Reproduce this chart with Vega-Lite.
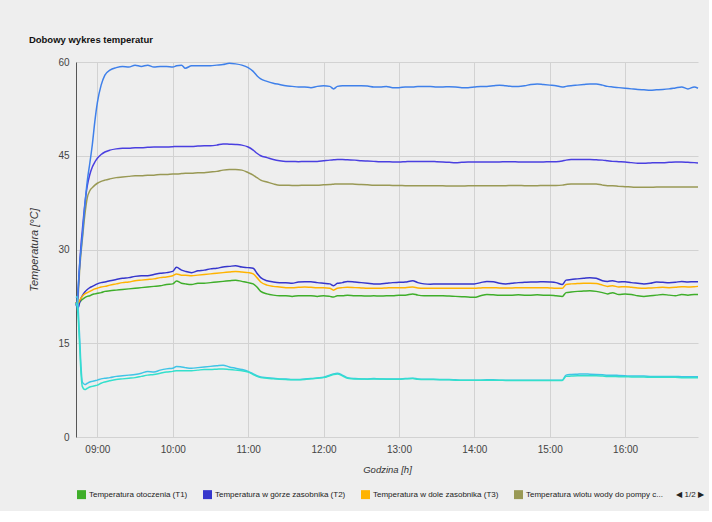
{
  "$schema": "https://vega.github.io/schema/vega-lite/v6.json",
  "width": 622,
  "height": 375,
  "padding": {"left": 28, "top": 34, "right": 5, "bottom": 5},
  "background": "#eeeeee",
  "title": {"text": "Dobowy wykres temperatur", "anchor": "start", "fontSize": 9.5, "fontWeight": "bold", "color": "#111111", "offset": 13},
  "config": {
    "view": {"stroke": null, "fill": "#eeeeee"},
    "font": "Liberation Sans"
  },
  "data": {
    "values": [
      {"t":"1900-01-01T08:43","T1":21.6,"T2":21.5,"T3":21.6,"T4":21.3,"T5":21.2,"T6":21.0,"T7":22.3,"T8":21.5},
      {"t":"1900-01-01T08:44","T1":21.3,"T2":20.6,"T3":21.2,"T4":21.2,"T5":21.5,"T6":21.8,"T7":22.5,"T8":20.8},
      {"t":"1900-01-01T08:45","T1":21.4,"T2":20.8,"T3":21.5,"T4":23.5,"T5":24.5,"T6":24.8,"T7":19.5,"T8":18.2},
      {"t":"1900-01-01T08:46","T1":21.6,"T2":21.6,"T3":21.9,"T4":27.0,"T5":28.0,"T6":27.8,"T7":15.5,"T8":14.2},
      {"t":"1900-01-01T08:47","T1":21.8,"T2":22.2,"T3":22.2,"T4":29.5,"T5":30.8,"T6":30.0,"T7":11.2,"T8":10.2},
      {"t":"1900-01-01T08:48","T1":22.0,"T2":22.6,"T3":22.5,"T4":31.5,"T5":33.0,"T6":32.0,"T7":8.8,"T8":8.1},
      {"t":"1900-01-01T08:50","T1":22.3,"T2":23.2,"T3":22.9,"T4":35.5,"T5":37.2,"T6":37.0,"T7":8.4,"T8":7.6},
      {"t":"1900-01-01T08:52","T1":22.5,"T2":23.6,"T3":23.1,"T4":38.3,"T5":40.2,"T6":41.0,"T7":8.6,"T8":7.8},
      {"t":"1900-01-01T08:54","T1":22.6,"T2":23.9,"T3":23.3,"T4":39.4,"T5":42.0,"T6":43.8,"T7":8.8,"T8":8.0},
      {"t":"1900-01-01T08:56","T1":22.8,"T2":24.1,"T3":23.5,"T4":39.9,"T5":43.2,"T6":46.8,"T7":8.9,"T8":8.1},
      {"t":"1900-01-01T08:58","T1":22.9,"T2":24.3,"T3":23.7,"T4":40.3,"T5":44.0,"T6":50.5,"T7":9.0,"T8":8.2},
      {"t":"1900-01-01T09:00","T1":23.0,"T2":24.5,"T3":23.8,"T4":40.6,"T5":44.6,"T6":53.5,"T7":9.1,"T8":8.3},
      {"t":"1900-01-01T09:03","T1":23.1,"T2":24.7,"T3":24.0,"T4":40.9,"T5":45.2,"T6":56.3,"T7":9.3,"T8":8.6},
      {"t":"1900-01-01T09:06","T1":23.3,"T2":24.8,"T3":24.1,"T4":41.1,"T5":45.6,"T6":57.9,"T7":9.4,"T8":8.8},
      {"t":"1900-01-01T09:10","T1":23.4,"T2":25.0,"T3":24.3,"T4":41.3,"T5":45.9,"T6":58.7,"T7":9.5,"T8":9.0},
      {"t":"1900-01-01T09:15","T1":23.5,"T2":25.2,"T3":24.5,"T4":41.5,"T5":46.1,"T6":59.1,"T7":9.7,"T8":9.2},
      {"t":"1900-01-01T09:20","T1":23.6,"T2":25.4,"T3":24.7,"T4":41.6,"T5":46.2,"T6":59.3,"T7":9.8,"T8":9.3},
      {"t":"1900-01-01T09:25","T1":23.7,"T2":25.5,"T3":24.8,"T4":41.7,"T5":46.2,"T6":59.2,"T7":9.9,"T8":9.4},
      {"t":"1900-01-01T09:30","T1":23.8,"T2":25.7,"T3":25.0,"T4":41.8,"T5":46.3,"T6":59.5,"T7":10.0,"T8":9.5},
      {"t":"1900-01-01T09:35","T1":23.9,"T2":25.8,"T3":25.1,"T4":41.8,"T5":46.3,"T6":59.3,"T7":10.2,"T8":9.7},
      {"t":"1900-01-01T09:40","T1":24.0,"T2":25.8,"T3":25.2,"T4":41.9,"T5":46.35,"T6":59.5,"T7":10.5,"T8":9.9},
      {"t":"1900-01-01T09:45","T1":24.1,"T2":26.0,"T3":25.3,"T4":41.9,"T5":46.4,"T6":59.2,"T7":10.4,"T8":10.0},
      {"t":"1900-01-01T09:50","T1":24.2,"T2":26.2,"T3":25.5,"T4":42.0,"T5":46.4,"T6":59.3,"T7":10.7,"T8":10.2},
      {"t":"1900-01-01T09:55","T1":24.4,"T2":26.3,"T3":25.6,"T4":42.0,"T5":46.4,"T6":59.3,"T7":10.9,"T8":10.4},
      {"t":"1900-01-01T10:00","T1":24.5,"T2":26.5,"T3":25.8,"T4":42.1,"T5":46.45,"T6":59.2,"T7":11.0,"T8":10.5},
      {"t":"1900-01-01T10:03","T1":24.95,"T2":27.15,"T3":26.1,"T4":42.1,"T5":46.5,"T6":59.4,"T7":11.3,"T8":10.6},
      {"t":"1900-01-01T10:07","T1":24.6,"T2":26.7,"T3":25.9,"T4":42.15,"T5":46.5,"T6":59.5,"T7":11.2,"T8":10.6},
      {"t":"1900-01-01T10:10","T1":24.5,"T2":26.5,"T3":25.9,"T4":42.2,"T5":46.5,"T6":59.0,"T7":11.1,"T8":10.6},
      {"t":"1900-01-01T10:15","T1":24.4,"T2":26.3,"T3":25.8,"T4":42.2,"T5":46.5,"T6":59.4,"T7":11.0,"T8":10.6},
      {"t":"1900-01-01T10:20","T1":24.6,"T2":26.6,"T3":25.9,"T4":42.3,"T5":46.55,"T6":59.4,"T7":11.1,"T8":10.7},
      {"t":"1900-01-01T10:25","T1":24.6,"T2":26.7,"T3":26.0,"T4":42.3,"T5":46.6,"T6":59.4,"T7":11.2,"T8":10.8},
      {"t":"1900-01-01T10:30","T1":24.7,"T2":26.9,"T3":26.1,"T4":42.4,"T5":46.6,"T6":59.4,"T7":11.3,"T8":10.8},
      {"t":"1900-01-01T10:35","T1":24.8,"T2":27.0,"T3":26.2,"T4":42.5,"T5":46.7,"T6":59.5,"T7":11.4,"T8":10.85},
      {"t":"1900-01-01T10:40","T1":24.9,"T2":27.2,"T3":26.3,"T4":42.7,"T5":46.9,"T6":59.6,"T7":11.5,"T8":10.9},
      {"t":"1900-01-01T10:45","T1":25.0,"T2":27.3,"T3":26.4,"T4":42.8,"T5":46.85,"T6":59.8,"T7":11.2,"T8":10.8},
      {"t":"1900-01-01T10:50","T1":25.1,"T2":27.4,"T3":26.5,"T4":42.8,"T5":46.8,"T6":59.7,"T7":11.0,"T8":10.7},
      {"t":"1900-01-01T10:55","T1":24.9,"T2":27.2,"T3":26.4,"T4":42.7,"T5":46.7,"T6":59.5,"T7":10.8,"T8":10.6},
      {"t":"1900-01-01T11:00","T1":24.7,"T2":27.1,"T3":26.3,"T4":42.3,"T5":46.4,"T6":59.1,"T7":10.5,"T8":10.4},
      {"t":"1900-01-01T11:04","T1":24.5,"T2":27.0,"T3":26.1,"T4":41.9,"T5":45.9,"T6":58.5,"T7":10.1,"T8":10.0},
      {"t":"1900-01-01T11:07","T1":24.0,"T2":26.2,"T3":25.5,"T4":41.5,"T5":45.4,"T6":57.8,"T7":9.8,"T8":9.7},
      {"t":"1900-01-01T11:10","T1":23.3,"T2":25.5,"T3":24.8,"T4":41.1,"T5":45.0,"T6":57.3,"T7":9.6,"T8":9.5},
      {"t":"1900-01-01T11:15","T1":22.9,"T2":25.0,"T3":24.3,"T4":40.8,"T5":44.7,"T6":56.9,"T7":9.5,"T8":9.4},
      {"t":"1900-01-01T11:20","T1":22.7,"T2":24.8,"T3":24.1,"T4":40.5,"T5":44.4,"T6":56.6,"T7":9.4,"T8":9.3},
      {"t":"1900-01-01T11:25","T1":22.6,"T2":24.7,"T3":24.0,"T4":40.3,"T5":44.2,"T6":56.4,"T7":9.3,"T8":9.25},
      {"t":"1900-01-01T11:30","T1":22.6,"T2":24.7,"T3":23.9,"T4":40.3,"T5":44.1,"T6":56.2,"T7":9.3,"T8":9.2},
      {"t":"1900-01-01T11:35","T1":22.5,"T2":24.6,"T3":23.9,"T4":40.25,"T5":44.1,"T6":56.1,"T7":9.2,"T8":9.15},
      {"t":"1900-01-01T11:40","T1":22.6,"T2":24.8,"T3":23.95,"T4":40.25,"T5":44.05,"T6":56.0,"T7":9.2,"T8":9.15},
      {"t":"1900-01-01T11:45","T1":22.6,"T2":24.85,"T3":24.0,"T4":40.3,"T5":44.1,"T6":56.0,"T7":9.3,"T8":9.2},
      {"t":"1900-01-01T11:50","T1":22.6,"T2":24.85,"T3":23.95,"T4":40.3,"T5":44.1,"T6":55.9,"T7":9.35,"T8":9.3},
      {"t":"1900-01-01T11:55","T1":22.5,"T2":24.7,"T3":23.9,"T4":40.3,"T5":44.1,"T6":56.1,"T7":9.45,"T8":9.4},
      {"t":"1900-01-01T12:00","T1":22.6,"T2":24.6,"T3":23.9,"T4":40.35,"T5":44.2,"T6":56.2,"T7":9.55,"T8":9.5},
      {"t":"1900-01-01T12:05","T1":22.5,"T2":24.5,"T3":23.8,"T4":40.4,"T5":44.3,"T6":56.1,"T7":9.9,"T8":9.8},
      {"t":"1900-01-01T12:08","T1":22.4,"T2":24.2,"T3":23.5,"T4":40.45,"T5":44.35,"T6":55.7,"T7":10.1,"T8":10.0},
      {"t":"1900-01-01T12:11","T1":22.6,"T2":24.6,"T3":23.8,"T4":40.5,"T5":44.4,"T6":56.1,"T7":10.2,"T8":10.1},
      {"t":"1900-01-01T12:15","T1":22.6,"T2":24.7,"T3":23.9,"T4":40.5,"T5":44.4,"T6":56.2,"T7":9.9,"T8":9.8},
      {"t":"1900-01-01T12:19","T1":22.7,"T2":24.9,"T3":23.95,"T4":40.5,"T5":44.35,"T6":56.2,"T7":9.5,"T8":9.4},
      {"t":"1900-01-01T12:25","T1":22.6,"T2":24.8,"T3":23.9,"T4":40.45,"T5":44.3,"T6":56.2,"T7":9.35,"T8":9.3},
      {"t":"1900-01-01T12:30","T1":22.6,"T2":24.7,"T3":23.85,"T4":40.4,"T5":44.2,"T6":56.2,"T7":9.3,"T8":9.3},
      {"t":"1900-01-01T12:35","T1":22.55,"T2":24.6,"T3":23.8,"T4":40.35,"T5":44.15,"T6":56.15,"T7":9.3,"T8":9.25},
      {"t":"1900-01-01T12:40","T1":22.6,"T2":24.5,"T3":23.8,"T4":40.3,"T5":44.1,"T6":56.0,"T7":9.35,"T8":9.3},
      {"t":"1900-01-01T12:45","T1":22.55,"T2":24.5,"T3":23.8,"T4":40.3,"T5":44.05,"T6":56.0,"T7":9.3,"T8":9.3},
      {"t":"1900-01-01T12:50","T1":22.6,"T2":24.6,"T3":23.85,"T4":40.3,"T5":44.05,"T6":56.1,"T7":9.3,"T8":9.25},
      {"t":"1900-01-01T12:55","T1":22.6,"T2":24.7,"T3":23.9,"T4":40.25,"T5":44.0,"T6":55.9,"T7":9.3,"T8":9.25},
      {"t":"1900-01-01T13:00","T1":22.7,"T2":24.75,"T3":23.9,"T4":40.25,"T5":44.0,"T6":55.9,"T7":9.3,"T8":9.25},
      {"t":"1900-01-01T13:05","T1":22.7,"T2":24.8,"T3":23.9,"T4":40.2,"T5":44.05,"T6":56.0,"T7":9.35,"T8":9.3},
      {"t":"1900-01-01T13:11","T1":22.9,"T2":25.0,"T3":24.0,"T4":40.2,"T5":44.1,"T6":56.0,"T7":9.4,"T8":9.35},
      {"t":"1900-01-01T13:15","T1":22.7,"T2":24.7,"T3":23.85,"T4":40.2,"T5":44.1,"T6":56.1,"T7":9.3,"T8":9.25},
      {"t":"1900-01-01T13:20","T1":22.6,"T2":24.5,"T3":23.8,"T4":40.2,"T5":44.1,"T6":56.1,"T7":9.25,"T8":9.2},
      {"t":"1900-01-01T13:25","T1":22.6,"T2":24.45,"T3":23.8,"T4":40.2,"T5":44.1,"T6":56.1,"T7":9.25,"T8":9.2},
      {"t":"1900-01-01T13:30","T1":22.6,"T2":24.5,"T3":23.8,"T4":40.2,"T5":44.05,"T6":56.0,"T7":9.2,"T8":9.2},
      {"t":"1900-01-01T13:35","T1":22.6,"T2":24.5,"T3":23.8,"T4":40.2,"T5":44.0,"T6":56.0,"T7":9.2,"T8":9.15},
      {"t":"1900-01-01T13:40","T1":22.55,"T2":24.5,"T3":23.8,"T4":40.15,"T5":43.95,"T6":56.05,"T7":9.2,"T8":9.15},
      {"t":"1900-01-01T13:45","T1":22.5,"T2":24.5,"T3":23.8,"T4":40.15,"T5":43.9,"T6":56.0,"T7":9.15,"T8":9.1},
      {"t":"1900-01-01T13:50","T1":22.45,"T2":24.5,"T3":23.8,"T4":40.15,"T5":43.95,"T6":55.9,"T7":9.1,"T8":9.1},
      {"t":"1900-01-01T13:55","T1":22.4,"T2":24.5,"T3":23.8,"T4":40.2,"T5":44.0,"T6":55.9,"T7":9.1,"T8":9.1},
      {"t":"1900-01-01T14:00","T1":22.35,"T2":24.5,"T3":23.8,"T4":40.2,"T5":44.0,"T6":56.0,"T7":9.1,"T8":9.1},
      {"t":"1900-01-01T14:05","T1":22.6,"T2":24.7,"T3":23.85,"T4":40.2,"T5":44.0,"T6":56.1,"T7":9.1,"T8":9.1},
      {"t":"1900-01-01T14:10","T1":22.8,"T2":24.9,"T3":23.9,"T4":40.2,"T5":44.0,"T6":56.1,"T7":9.15,"T8":9.1},
      {"t":"1900-01-01T14:15","T1":22.75,"T2":24.85,"T3":23.9,"T4":40.2,"T5":44.0,"T6":56.2,"T7":9.15,"T8":9.1},
      {"t":"1900-01-01T14:20","T1":22.7,"T2":24.6,"T3":23.85,"T4":40.2,"T5":44.0,"T6":56.3,"T7":9.1,"T8":9.1},
      {"t":"1900-01-01T14:25","T1":22.7,"T2":24.5,"T3":23.85,"T4":40.2,"T5":44.05,"T6":56.2,"T7":9.1,"T8":9.05},
      {"t":"1900-01-01T14:30","T1":22.7,"T2":24.6,"T3":23.85,"T4":40.25,"T5":44.05,"T6":56.1,"T7":9.1,"T8":9.05},
      {"t":"1900-01-01T14:35","T1":22.75,"T2":24.7,"T3":23.9,"T4":40.25,"T5":44.0,"T6":56.1,"T7":9.1,"T8":9.05},
      {"t":"1900-01-01T14:40","T1":22.7,"T2":24.75,"T3":23.9,"T4":40.2,"T5":44.0,"T6":56.2,"T7":9.1,"T8":9.05},
      {"t":"1900-01-01T14:45","T1":22.7,"T2":24.8,"T3":23.9,"T4":40.2,"T5":44.0,"T6":56.4,"T7":9.1,"T8":9.05},
      {"t":"1900-01-01T14:50","T1":22.75,"T2":24.8,"T3":23.9,"T4":40.2,"T5":44.0,"T6":56.5,"T7":9.1,"T8":9.05},
      {"t":"1900-01-01T14:55","T1":22.7,"T2":24.85,"T3":23.9,"T4":40.25,"T5":44.0,"T6":56.4,"T7":9.1,"T8":9.05},
      {"t":"1900-01-01T15:00","T1":22.7,"T2":24.8,"T3":23.85,"T4":40.25,"T5":44.05,"T6":56.3,"T7":9.1,"T8":9.05},
      {"t":"1900-01-01T15:05","T1":22.6,"T2":24.7,"T3":23.8,"T4":40.25,"T5":44.05,"T6":56.2,"T7":9.1,"T8":9.05},
      {"t":"1900-01-01T15:10","T1":22.5,"T2":24.4,"T3":23.8,"T4":40.3,"T5":44.15,"T6":56.0,"T7":9.1,"T8":9.05},
      {"t":"1900-01-01T15:13","T1":23.1,"T2":25.1,"T3":24.4,"T4":40.4,"T5":44.3,"T6":56.1,"T7":9.9,"T8":9.7},
      {"t":"1900-01-01T15:17","T1":23.2,"T2":25.2,"T3":24.5,"T4":40.5,"T5":44.4,"T6":56.2,"T7":10.0,"T8":9.75},
      {"t":"1900-01-01T15:22","T1":23.3,"T2":25.3,"T3":24.55,"T4":40.5,"T5":44.4,"T6":56.3,"T7":10.05,"T8":9.8},
      {"t":"1900-01-01T15:27","T1":23.35,"T2":25.4,"T3":24.6,"T4":40.5,"T5":44.4,"T6":56.4,"T7":10.1,"T8":9.8},
      {"t":"1900-01-01T15:32","T1":23.4,"T2":25.5,"T3":24.6,"T4":40.5,"T5":44.4,"T6":56.5,"T7":10.05,"T8":9.8},
      {"t":"1900-01-01T15:37","T1":23.3,"T2":25.4,"T3":24.55,"T4":40.5,"T5":44.35,"T6":56.5,"T7":10.0,"T8":9.8},
      {"t":"1900-01-01T15:42","T1":23.1,"T2":25.0,"T3":24.3,"T4":40.3,"T5":44.3,"T6":56.3,"T7":9.95,"T8":9.75},
      {"t":"1900-01-01T15:46","T1":22.9,"T2":24.9,"T3":24.1,"T4":40.2,"T5":44.2,"T6":56.1,"T7":9.9,"T8":9.7},
      {"t":"1900-01-01T15:50","T1":23.1,"T2":25.0,"T3":24.2,"T4":40.2,"T5":44.1,"T6":56.0,"T7":9.9,"T8":9.7},
      {"t":"1900-01-01T15:55","T1":22.8,"T2":24.8,"T3":24.0,"T4":40.1,"T5":44.05,"T6":55.9,"T7":9.85,"T8":9.65},
      {"t":"1900-01-01T16:00","T1":22.9,"T2":24.85,"T3":24.05,"T4":40.05,"T5":44.0,"T6":55.8,"T7":9.8,"T8":9.65},
      {"t":"1900-01-01T16:05","T1":22.8,"T2":24.7,"T3":23.95,"T4":40.0,"T5":43.9,"T6":55.7,"T7":9.75,"T8":9.6},
      {"t":"1900-01-01T16:10","T1":22.6,"T2":24.6,"T3":23.85,"T4":39.95,"T5":43.8,"T6":55.6,"T7":9.75,"T8":9.6},
      {"t":"1900-01-01T16:15","T1":22.5,"T2":24.5,"T3":23.8,"T4":39.95,"T5":43.8,"T6":55.55,"T7":9.75,"T8":9.6},
      {"t":"1900-01-01T16:20","T1":22.6,"T2":24.6,"T3":23.85,"T4":39.95,"T5":43.85,"T6":55.5,"T7":9.7,"T8":9.55},
      {"t":"1900-01-01T16:25","T1":22.7,"T2":24.8,"T3":23.9,"T4":40.0,"T5":43.9,"T6":55.55,"T7":9.7,"T8":9.55},
      {"t":"1900-01-01T16:30","T1":22.8,"T2":24.75,"T3":23.95,"T4":40.0,"T5":43.9,"T6":55.6,"T7":9.7,"T8":9.55},
      {"t":"1900-01-01T16:35","T1":22.7,"T2":24.7,"T3":23.9,"T4":40.0,"T5":43.95,"T6":55.7,"T7":9.7,"T8":9.55},
      {"t":"1900-01-01T16:40","T1":22.6,"T2":24.75,"T3":23.95,"T4":40.0,"T5":44.0,"T6":55.85,"T7":9.7,"T8":9.55},
      {"t":"1900-01-01T16:45","T1":22.8,"T2":24.9,"T3":24.05,"T4":40.0,"T5":44.0,"T6":56.0,"T7":9.65,"T8":9.5},
      {"t":"1900-01-01T16:50","T1":22.7,"T2":24.8,"T3":24.0,"T4":40.0,"T5":43.95,"T6":55.7,"T7":9.65,"T8":9.5},
      {"t":"1900-01-01T16:55","T1":22.8,"T2":24.85,"T3":24.05,"T4":40.0,"T5":43.9,"T6":56.0,"T7":9.65,"T8":9.5},
      {"t":"1900-01-01T16:58","T1":22.8,"T2":24.85,"T3":24.1,"T4":40.0,"T5":43.85,"T6":55.8,"T7":9.65,"T8":9.5}
    ]
  },
  "transform": [{"fold": ["T1","T2","T3","T4","T5","T6","T7","T8"], "as": ["s","v"]}],
  "mark": {"type": "line", "strokeWidth": 1.5, "interpolate": "monotone"},
  "encoding": {
    "x": {
      "field": "t", "type": "temporal",
      "axis": {"format": "%H:%M", "tickCount": 9, "grid": true, "gridColor": "#d2d2d2", "domain": false, "ticks": false, "labelColor": "#444444", "labelFontSize": 10, "labelPadding": 7, "title": "Godzina [h]", "titleFontStyle": "italic", "titleFontWeight": "normal", "titleFontSize": 9.5, "titleColor": "#333333", "titlePadding": 10}
    },
    "y": {
      "field": "v", "type": "quantitative",
      "scale": {"domain": [0, 60], "nice": false},
      "axis": {"values": [0,15,30,45,60], "grid": true, "gridColor": "#d2d2d2", "domain": true, "domainColor": "#555555", "ticks": false, "labelColor": "#444444", "labelFontSize": 10, "labelPadding": 7, "title": "Temperatura [°C]", "titleFontStyle": "italic", "titleFontWeight": "normal", "titleFontSize": 11, "titleColor": "#333333", "titlePadding": 18}
    },
    "color": {
      "field": "s", "type": "nominal",
      "scale": {"domain": ["T1","T2","T3","T4","T5","T6","T7","T8"], "range": ["#3fae2a","#3636cc","#ffb300","#999955","#4a3fe0","#3f80ea","#3fc4e6","#33e0cc"]},
      "legend": {
        "orient": "none", "legendX": 1, "legendY": 428, "direction": "horizontal", "columns": 4, "title": null,
        "values": ["T1","T2","T3","T4"],
        "symbolType": "square", "symbolSize": 20, "symbolStrokeWidth": 4.5,
        "labelFontSize": 8, "labelColor": "#222222", "labelLimit": 400, "labelOffset": 3, "columnPadding": 8,
        "labelExpr": "datum.value == 'T1' ? 'Temperatura otoczenia (T1)' : datum.value == 'T2' ? 'Temperatura w górze zasobnika (T2)' : datum.value == 'T3' ? 'Temperatura w dole zasobnika (T3)' : 'Temperatura wlotu wody do pompy c...\u00a0\u00a0\u00a0\u00a0\u00a0\u00a0◀ 1/2 ▶'"
      }
    }
  }
}
